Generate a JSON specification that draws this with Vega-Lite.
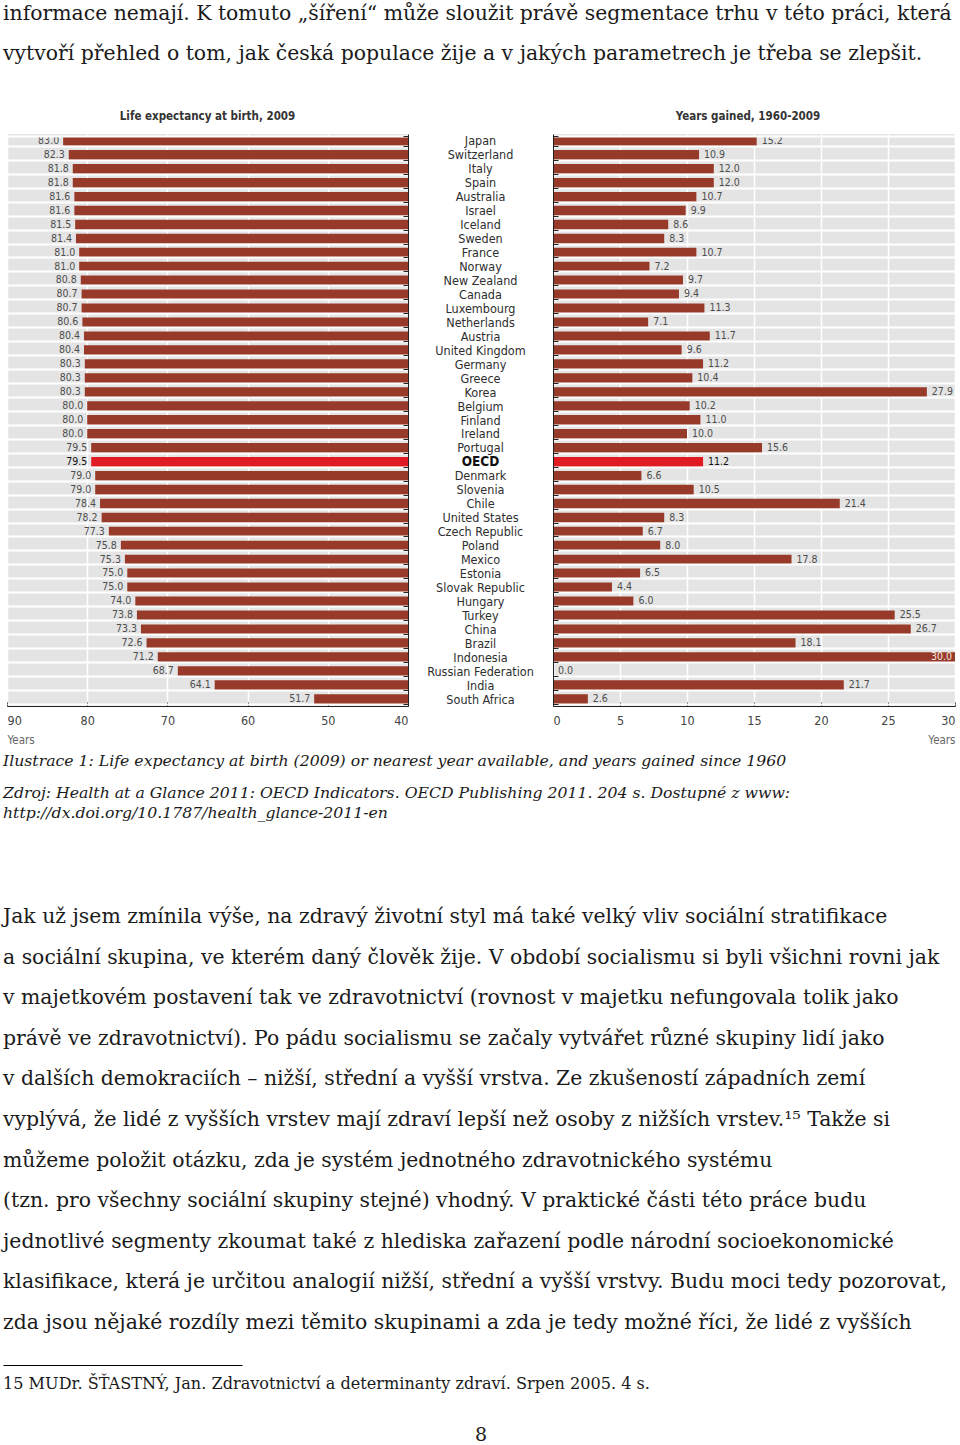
{
  "$schema": "https://vega.github.io/schema/vega-lite/v6.json",
  "padding": {"left": 3, "top": 0, "right": 0, "bottom": 0},
  "background": "white",
  "bounds": "flush",
  "spacing": 0,
  "config": {"view": {"stroke": null}},
  "datasets": {
    "countries": [
      {"country": "Japan", "life": 83.0, "gain": 15.2},
      {"country": "Switzerland", "life": 82.3, "gain": 10.9},
      {"country": "Italy", "life": 81.8, "gain": 12.0},
      {"country": "Spain", "life": 81.8, "gain": 12.0},
      {"country": "Australia", "life": 81.6, "gain": 10.7},
      {"country": "Israel", "life": 81.6, "gain": 9.9},
      {"country": "Iceland", "life": 81.5, "gain": 8.6},
      {"country": "Sweden", "life": 81.4, "gain": 8.3},
      {"country": "France", "life": 81.0, "gain": 10.7},
      {"country": "Norway", "life": 81.0, "gain": 7.2},
      {"country": "New Zealand", "life": 80.8, "gain": 9.7},
      {"country": "Canada", "life": 80.7, "gain": 9.4},
      {"country": "Luxembourg", "life": 80.7, "gain": 11.3},
      {"country": "Netherlands", "life": 80.6, "gain": 7.1},
      {"country": "Austria", "life": 80.4, "gain": 11.7},
      {"country": "United Kingdom", "life": 80.4, "gain": 9.6},
      {"country": "Germany", "life": 80.3, "gain": 11.2},
      {"country": "Greece", "life": 80.3, "gain": 10.4},
      {"country": "Korea", "life": 80.3, "gain": 27.9},
      {"country": "Belgium", "life": 80.0, "gain": 10.2},
      {"country": "Finland", "life": 80.0, "gain": 11.0},
      {"country": "Ireland", "life": 80.0, "gain": 10.0},
      {"country": "Portugal", "life": 79.5, "gain": 15.6},
      {"country": "OECD", "life": 79.5, "gain": 11.2},
      {"country": "Denmark", "life": 79.0, "gain": 6.6},
      {"country": "Slovenia", "life": 79.0, "gain": 10.5},
      {"country": "Chile", "life": 78.4, "gain": 21.4},
      {"country": "United States", "life": 78.2, "gain": 8.3},
      {"country": "Czech Republic", "life": 77.3, "gain": 6.7},
      {"country": "Poland", "life": 75.8, "gain": 8.0},
      {"country": "Mexico", "life": 75.3, "gain": 17.8},
      {"country": "Estonia", "life": 75.0, "gain": 6.5},
      {"country": "Slovak Republic", "life": 75.0, "gain": 4.4},
      {"country": "Hungary", "life": 74.0, "gain": 6.0},
      {"country": "Turkey", "life": 73.8, "gain": 25.5},
      {"country": "China", "life": 73.3, "gain": 26.7},
      {"country": "Brazil", "life": 72.6, "gain": 18.1},
      {"country": "Indonesia", "life": 71.2, "gain": 30.0},
      {"country": "Russian Federation", "life": 68.7, "gain": 0.0},
      {"country": "India", "life": 64.1, "gain": 21.7},
      {"country": "South Africa", "life": 51.7, "gain": 2.6}
    ],
    "top": [
      {"line": 0, "text": "informace nemají. K tomuto „šíření“ může sloužit právě segmentace trhu v této práci, která"},
      {"line": 1, "text": "vytvoří přehled o tom, jak česká populace žije a v jakých parametrech je třeba se zlepšit."}
    ],
    "cap1": [
      {"line": 0, "text": "Ilustrace 1: Life expectancy at birth (2009) or nearest year available, and years gained since 1960"}
    ],
    "cap2": [
      {"line": 0, "text": "Zdroj: Health at a Glance 2011: OECD Indicators. OECD Publishing 2011. 204 s. Dostupné z www:"},
      {"line": 1, "text": "http://dx.doi.org/10.1787/health_glance-2011-en"}
    ],
    "body": [
      {"line": 0, "text": "Jak už jsem zmínila výše, na zdravý životní styl má také velký vliv sociální stratifikace"},
      {"line": 1, "text": "a sociální skupina, ve kterém daný člověk žije. V období socialismu si byli všichni rovni jak"},
      {"line": 2, "text": "v majetkovém postavení tak ve zdravotnictví (rovnost v majetku nefungovala tolik jako"},
      {"line": 3, "text": "právě ve zdravotnictví). Po pádu socialismu se začaly vytvářet různé skupiny lidí jako"},
      {"line": 4, "text": "v dalších demokraciích – nižší, střední a vyšší vrstva. Ze zkušeností západních zemí"},
      {"line": 5, "text": "vyplývá, že lidé z vyšších vrstev mají zdraví lepší než osoby z nižších vrstev.¹⁵ Takže si"},
      {"line": 6, "text": "můžeme položit otázku, zda je systém jednotného zdravotnického systému"},
      {"line": 7, "text": "(tzn. pro všechny sociální skupiny stejné) vhodný. V praktické části této práce budu"},
      {"line": 8, "text": "jednotlivé segmenty zkoumat také z hlediska zařazení podle národní socioekonomické"},
      {"line": 9, "text": "klasifikace, která je určitou analogií nižší, střední a vyšší vrstvy. Budu moci tedy pozorovat,"},
      {"line": 10, "text": "zda jsou nějaké rozdíly mezi těmito skupinami a zda je tedy možné říci, že lidé z vyšších"}
    ],
    "foot": [
      {"line": 0, "text": "15  MUDr. ŠŤASTNÝ, Jan. Zdravotnictví a determinanty zdraví. Srpen 2005. 4 s."}
    ],
    "page": [
      {"line": 0, "text": "8"}
    ]
  },
  "vconcat": [
    {
      "width": 950, "height": 134,
      "data": {"name": "top"},
      "mark": {"type": "text", "align": "left", "baseline": "alphabetic", "font": "DejaVu Serif", "fontSize": 20.4, "color": "#1a1a1a"},
      "encoding": {
        "x": {"value": 0},
        "y": {"field": "line", "type": "quantitative", "scale": {"domain": [-0.4875, 2.8625], "reverse": true}, "axis": null},
        "text": {"field": "text"}
      }
    },
    {
      "bounds": "flush",
      "spacing": 550,
      "hconcat": [
        {
          "bounds": "flush",
          "spacing": 0,
          "hconcat": [
            {
              "width": 4, "height": 572,
              "data": {"values": [{"line": 0}]},
              "mark": {"type": "text"},
              "encoding": {"text": {"value": ""}}
            },
            {
              "width": 401, "height": 572,
              "data": {"name": "countries"},
              "view": {"fill": "#e4e4e4", "stroke": null},
              "title": {"text": "Life expectancy at birth, 2009", "fontSize": 11.5, "fontWeight": "bold", "font": "Liberation Sans Narrow, DejaVu Sans Condensed, Roboto, sans-serif", "color": "#333333", "offset": 12, "frame": "group"},
              "encoding": {
                "y": {
                  "field": "country", "type": "nominal", "sort": null,
                  "scale": {"paddingInner": 0.3, "paddingOuter": 0.15},
                  "axis": {"orient": "right", "labels": false, "title": null, "grid": true, "gridColor": "#ffffff", "gridWidth": 2, "tickBand": "extent", "ticks": true, "tickSize": -5, "tickColor": "#222222", "domain": true, "domainColor": "#222222", "zindex": 1}
                }
              },
              "layer": [
                {
                  "mark": {"type": "bar"},
                  "encoding": {
                    "x": {
                      "field": "life", "type": "quantitative",
                      "scale": {"domain": [40, 90], "reverse": true, "nice": false, "zero": false},
                      "axis": {"values": [90, 80, 70, 60, 50, 40], "grid": true, "gridColor": "#ffffff", "gridWidth": 1.5, "domainColor": "#222222", "tickColor": "#222222", "tickSize": -4, "labelFlush": true, "labelFontSize": 12.5, "labelColor": "#444444", "labelPadding": 12, "labelFont": "Liberation Sans Narrow, DejaVu Sans Condensed, Roboto, sans-serif", "title": "Years", "titleX": 0, "titleAlign": "left", "titleFontSize": 11.5, "titleFontWeight": "normal", "titleColor": "#666666", "titleFont": "Liberation Sans Narrow, DejaVu Sans Condensed, Roboto, sans-serif", "titlePadding": 8}
                    },
                    "x2": {"datum": 40},
                    "color": {"condition": {"test": "datum.country === 'OECD'", "value": "#e11b22"}, "value": "#983a29"}
                  }
                },
                {
                  "mark": {"type": "text", "align": "right", "baseline": "middle", "dx": -4, "fontSize": 10.5, "font": "Liberation Sans Narrow, DejaVu Sans Condensed, Roboto, sans-serif"},
                  "encoding": {
                    "x": {"field": "life", "type": "quantitative"},
                    "text": {"field": "life", "type": "quantitative", "format": ".1f"},
                    "color": {"condition": {"test": "datum.country === 'OECD'", "value": "#111111"}, "value": "#4d4d4d"},
                    "fontWeight": {"condition": {"test": "datum.country === 'OECD'", "value": "bold"}, "value": "normal"}
                  }
                }
              ]
            }
          ]
        },
        {
          "width": 402, "height": 572,
          "data": {"name": "countries"},
          "view": {"fill": "#e4e4e4", "stroke": null},
          "title": {"text": "Years gained, 1960-2009", "fontSize": 11.5, "fontWeight": "bold", "font": "Liberation Sans Narrow, DejaVu Sans Condensed, Roboto, sans-serif", "color": "#333333", "offset": 6, "dx": -6, "frame": "group"},
          "encoding": {
            "y": {
              "field": "country", "type": "nominal", "sort": null,
              "scale": {"paddingInner": 0.3, "paddingOuter": 0.15},
              "axis": {"orient": "left", "labels": true, "labelAlign": "center", "labelBaseline": "middle", "labelPadding": 78, "labelFontSize": {"condition": {"test": "datum.value === 'OECD'", "value": 13.5}, "value": 12.5}, "labelColor": {"condition": {"test": "datum.value === 'OECD'", "value": "#111111"}, "value": "#2e2e2e"}, "labelFontWeight": {"condition": {"test": "datum.value === 'OECD'", "value": "bold"}, "value": "normal"}, "labelFont": "Liberation Sans Narrow, DejaVu Sans Condensed, Roboto, sans-serif", "title": null, "grid": true, "gridColor": "#ffffff", "gridWidth": 2, "tickBand": "extent", "ticks": true, "tickSize": -5, "tickColor": "#222222", "domain": true, "domainColor": "#222222", "zindex": 1}
            }
          },
          "layer": [
            {
              "mark": {"type": "bar"},
              "encoding": {
                "x": {
                  "field": "gain", "type": "quantitative",
                  "scale": {"domain": [0, 30], "nice": false},
                  "axis": {"values": [0, 5, 10, 15, 20, 25, 30], "grid": true, "gridColor": "#ffffff", "gridWidth": 1.5, "domainColor": "#222222", "tickColor": "#222222", "tickSize": -4, "labelFlush": true, "labelFontSize": 12.5, "labelColor": "#444444", "labelPadding": 12, "labelFont": "Liberation Sans Narrow, DejaVu Sans Condensed, Roboto, sans-serif", "title": "Years", "titleX": 402, "titleAlign": "right", "titleFontSize": 11.5, "titleFontWeight": "normal", "titleColor": "#666666", "titleFont": "Liberation Sans Narrow, DejaVu Sans Condensed, Roboto, sans-serif", "titlePadding": 8}
                },
                "x2": {"datum": 0},
                "color": {"condition": {"test": "datum.country === 'OECD'", "value": "#e11b22"}, "value": "#983a29"}
              }
            },
            {
              "transform": [{"filter": "datum.gain < 29"}],
              "mark": {"type": "text", "align": "left", "baseline": "middle", "dx": 5, "fontSize": 10.5, "font": "Liberation Sans Narrow, DejaVu Sans Condensed, Roboto, sans-serif"},
              "encoding": {
                "x": {"field": "gain", "type": "quantitative"},
                "text": {"field": "gain", "type": "quantitative", "format": ".1f"},
                "color": {"condition": {"test": "datum.country === 'OECD'", "value": "#111111"}, "value": "#4d4d4d"},
                "fontWeight": {"condition": {"test": "datum.country === 'OECD'", "value": "bold"}, "value": "normal"}
              }
            },
            {
              "transform": [{"filter": "datum.gain >= 29"}],
              "mark": {"type": "text", "align": "right", "baseline": "middle", "dx": -3, "fontSize": 10.5, "color": "#f4e6e2", "font": "Liberation Sans Narrow, DejaVu Sans Condensed, Roboto, sans-serif"},
              "encoding": {
                "x": {"field": "gain", "type": "quantitative"},
                "text": {"field": "gain", "type": "quantitative", "format": ".1f"}
              }
            }
          ]
        }
      ]
    },
    {
      "width": 950, "height": 646,
      "data": {"name": "cap1"},
      "mark": {"type": "text", "align": "left", "baseline": "alphabetic", "font": "DejaVu Serif", "fontStyle": "italic", "fontSize": 15.7, "color": "#1a1a1a"},
      "encoding": {
        "x": {"value": 0},
        "y": {"field": "line", "type": "quantitative", "scale": {"domain": [-31.6, 0.7], "reverse": true}, "axis": null},
        "text": {"field": "text"}
      }
    },
    {
      "width": 950, "height": 100,
      "data": {"name": "cap2"},
      "mark": {"type": "text", "align": "left", "baseline": "alphabetic", "font": "DejaVu Serif", "fontStyle": "italic", "fontSize": 15.7, "color": "#1a1a1a"},
      "encoding": {
        "x": {"value": 0},
        "y": {"field": "line", "type": "quantitative", "scale": {"domain": [-0.9, 4.1], "reverse": true}, "axis": null},
        "text": {"field": "text"}
      }
    },
    {
      "width": 950, "height": 485,
      "data": {"name": "body"},
      "mark": {"type": "text", "align": "left", "baseline": "alphabetic", "font": "DejaVu Serif", "fontSize": 20.4, "color": "#1a1a1a"},
      "encoding": {
        "x": {"value": 0},
        "y": {"field": "line", "type": "quantitative", "scale": {"domain": [-1.059, 10.887], "reverse": true}, "axis": null},
        "text": {"field": "text"}
      }
    },
    {
      "width": 239, "height": 45,
      "data": {"name": "foot"},
      "mark": {"type": "text", "align": "left", "baseline": "alphabetic", "font": "DejaVu Serif", "fontSize": 16.1, "color": "#1a1a1a"},
      "encoding": {
        "x": {"datum": 0, "type": "quantitative", "scale": {"domain": [0, 1]}, "axis": {"orient": "top", "domain": true, "domainColor": "#000000", "domainWidth": 1, "ticks": false, "labels": false, "grid": false, "title": null}},
        "y": {"field": "line", "type": "quantitative", "scale": {"domain": [-1.2, 1.05], "reverse": true}, "axis": null},
        "text": {"field": "text"}
      }
    },
    {
      "width": 956, "height": 35,
      "data": {"name": "page"},
      "mark": {"type": "text", "align": "center", "baseline": "alphabetic", "font": "DejaVu Serif", "fontSize": 19, "color": "#1a1a1a"},
      "encoding": {
        "x": {"datum": 0.5, "type": "quantitative", "scale": {"domain": [0, 1]}, "axis": null},
        "y": {"field": "line", "type": "quantitative", "scale": {"domain": [-1.55, 0.2], "reverse": true}, "axis": null},
        "text": {"field": "text"}
      }
    }
  ]
}
